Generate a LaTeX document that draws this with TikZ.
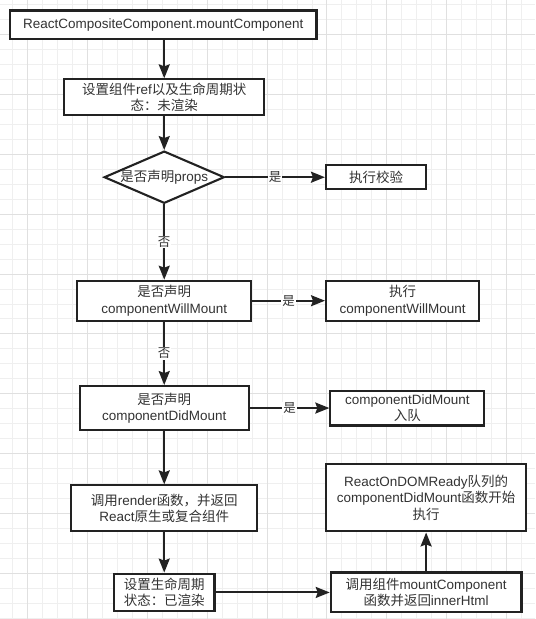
\documentclass[tikz,border=0pt]{standalone}
\usepackage{fontspec}
\setmainfont{Liberation Sans}
\newfontfamily\cjk{Noto Sans CJK SC}
\newcommand{\zh}[1]{{\cjk #1}}
\usetikzlibrary{arrows.meta,shapes.geometric}
\definecolor{ink}{HTML}{222222}
\definecolor{txt}{HTML}{333333}
\definecolor{gridlight}{HTML}{EFEFEF}
\definecolor{gridheavy}{HTML}{E0E0E0}
\begin{document}
\begin{tikzpicture}[x=1pt,y=-1pt,
  box/.style={draw=ink, line width=2.1pt, fill=white, rectangle, inner sep=0pt, align=center, text=txt, font=\fontsize{13.5}{16.5}\selectfont},
  dia/.style={draw=ink, line width=2.1pt, fill=white, diamond, inner sep=0pt},
  plain/.style={text=txt, inner sep=0pt, font=\fontsize{13.5}{16.5}\selectfont},
  arr/.style={draw=ink, line width=2.1pt, -{Stealth[length=14pt,width=11pt,inset=2pt]}},
  lbl/.style={fill=white, text=txt, inner sep=1pt, font=\fontsize{12.5}{14}\selectfont}]
% background and grid
\fill[white] (0,0) rectangle (535,619);
\foreach \x in {12,27,...,535} \draw[gridlight, line width=1pt] (\x,0) -- (\x,619);
\foreach \y in {4,19,...,619} \draw[gridlight, line width=1pt] (0,\y) -- (535,\y);
\foreach \x in {27,87,...,535} \draw[gridheavy, line width=1pt] (\x,0) -- (\x,619);
\foreach \y in {34,94,...,619} \draw[gridheavy, line width=1pt] (0,\y) -- (535,\y);
\useasboundingbox (0,0) rectangle (535,619);

% main column
\node[box, minimum width=307pt, minimum height=29pt] (b1) at (163,24.5) {ReactCompositeComponent.mountComponent};
\node[box, minimum width=200.7pt, minimum height=36pt] (b2) at (164,97) {\zh{设置组件}ref\zh{以及生命周期状}\\\zh{态：未渲染}};
\node[dia, minimum width=120.4pt, minimum height=52.3pt] (d) at (164,177) {};
\node[plain] (dt) at (d.center) {\zh{是否声明}props};
\node[box, minimum width=174.1pt, minimum height=40pt] (b3) at (164,300.7) {\zh{是否声明}\\componentWillMount};
\node[box, minimum width=169.3pt, minimum height=44pt] (b5) at (164,408.2) {\zh{是否声明}\\componentDidMount};
\node[box, minimum width=186.1pt, minimum height=46pt] (b7) at (164,508.7) {\zh{调用}render\zh{函数，并返回}\\React\zh{原生或复合组件}};
\node[box, minimum width=100.6pt, minimum height=37.7pt] (b8) at (164,592.9) {\zh{设置生命周期}\\\zh{状态：已渲染}};

% right column
\node[box, minimum width=100.6pt, minimum height=24.3pt] (v) at (376.3,177) {\zh{执行校验}};
\node[box, minimum width=153.5pt, minimum height=40pt] (b4) at (402.8,300.7) {\zh{执行}\\componentWillMount};
\node[box, minimum width=154.2pt, minimum height=35pt] (b6) at (407.5,408.2) {componentDidMount\\\zh{入队}};
\node[box, minimum width=191pt, minimum height=40pt] (b9) at (426.3,592.9) {\zh{调用组件}mountComponent\\\zh{函数并返回}innerHtml};
\node[box, minimum width=200.7pt, minimum height=67.7pt] (b10) at (426.3,497.9) {ReactOnDOMReady\zh{队列的}\\componentDidMount\zh{函数开始}\\\zh{执行}};

% connectors
\draw[arr] (b1.south -| b2.north) -- (b2.north);
\draw[arr] (b2.south) -- (d.north);
\draw[arr] (d.east) -- node[lbl] (l1) {\zh{是}} (v.west);
\draw[arr] (d.south) -- node[lbl] (l2) {\zh{否}} (b3.north);
\draw[arr] (b3.east) -- node[lbl] (l3) {\zh{是}} (b4.west);
\draw[arr] (b3.south) -- node[lbl] (l4) {\zh{否}} (b5.north);
\draw[arr] (b5.east) -- node[lbl] (l5) {\zh{是}} (b6.west);
\draw[arr] (b5.south) -- (b7.north);
\draw[arr] (b7.south) -- (b8.north);
\draw[arr] (b8.east) -- (b9.west);
\draw[arr] (b9.north) -- (b10.south);
\end{tikzpicture}
\end{document}
